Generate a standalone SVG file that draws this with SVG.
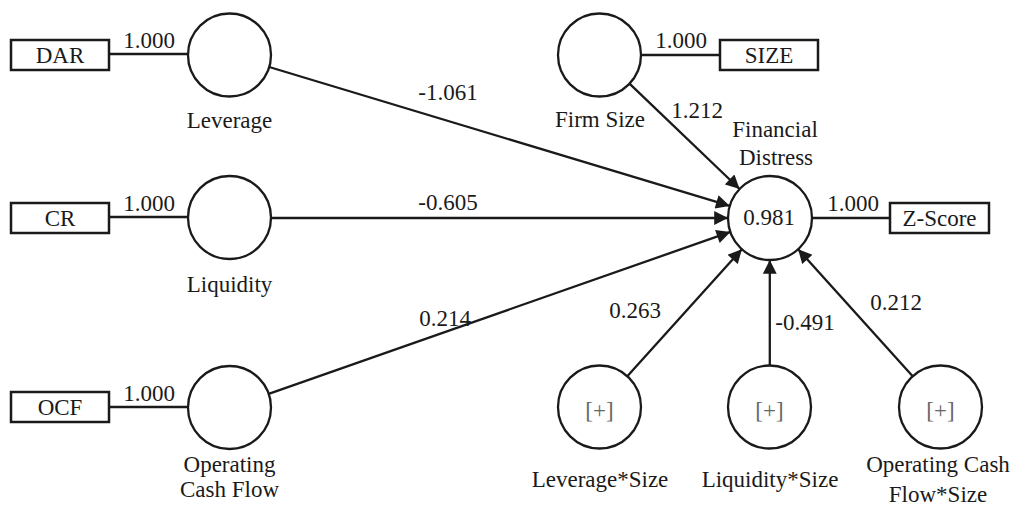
<svg xmlns="http://www.w3.org/2000/svg" width="1017" height="506" viewBox="0 0 1017 506" font-family="'Liberation Serif', 'DejaVu Serif', serif">
<defs>
<marker id="arr" viewBox="0 0 10 10" refX="10" refY="5" markerWidth="6.5" markerHeight="6" orient="auto" markerUnits="strokeWidth">
<path d="M0,0 L10,5 L0,10 Z" fill="#1a1a1a"/>
</marker>
<style>
text{font-family:'Liberation Serif','DejaVu Serif',serif;font-size:23px;fill:#1a1a1a}
.c{text-anchor:middle}
.box{fill:#fff;stroke:#1a1a1a;stroke-width:2.5}
.lv{fill:#fff;stroke:#1a1a1a;stroke-width:2.3}
.e{stroke:#1a1a1a;stroke-width:2.3;fill:none}
.a{marker-end:url(#arr)}
.g{fill:#666}
</style>
</defs>
<rect width="1017" height="506" fill="#fff"/>
<g id="connectors">
<line class="e" x1="109" y1="54" x2="188" y2="54"/>
<line class="e" x1="109" y1="217" x2="188" y2="217"/>
<line class="e" x1="109" y1="407" x2="188" y2="407"/>
<line class="e" x1="641" y1="55" x2="720" y2="55"/>
<line class="e" x1="812" y1="218" x2="890" y2="218"/>
<line class="e a" x1="269.2" y1="67" x2="729.8" y2="205.9"/>
<line class="e a" x1="271" y1="218" x2="728" y2="218"/>
<line class="e a" x1="268.7" y1="393.8" x2="730.4" y2="231.9"/>
<line class="e a" x1="629.5" y1="83.7" x2="739.6" y2="189"/>
<line class="e a" x1="627.3" y1="376.2" x2="741.9" y2="249.2"/>
<line class="e a" x1="769.8" y1="365.5" x2="769.8" y2="260"/>
<line class="e a" x1="912.7" y1="376.2" x2="798.1" y2="249.2"/>
<text x="149" y="48" class="c">1.000</text>
<text x="149" y="211" class="c">1.000</text>
<text x="149" y="401" class="c">1.000</text>
<text x="681" y="48" class="c">1.000</text>
<text x="853" y="211" class="c">1.000</text>
<text x="448" y="100" class="c">-1.061</text>
<text x="448" y="210" class="c">-0.605</text>
<text x="445" y="326" class="c">0.214</text>
<text x="697" y="118" class="c">1.212</text>
<text x="635" y="318" class="c">0.263</text>
<text x="805" y="330" class="c">-0.491</text>
<text x="896" y="310" class="c">0.212</text>
</g>
<g id="DAR"><rect class="box" x="11" y="40" width="98" height="30"/><text x="60" y="63" class="c">DAR</text></g>
<g id="CR"><rect class="box" x="11" y="203" width="98" height="30"/><text x="60" y="226" class="c">CR</text></g>
<g id="OCF"><rect class="box" x="11" y="392" width="98" height="30"/><text x="60" y="415" class="c">OCF</text></g>
<g id="SIZE"><rect class="box" x="720" y="40" width="98" height="30"/><text x="769" y="63" class="c">SIZE</text></g>
<g id="ZScore"><rect class="box" x="890" y="203" width="99" height="30"/><text x="939.5" y="226" class="c">Z-Score</text></g>
<g id="Leverage"><circle class="lv" cx="229.5" cy="55" r="41.5"/><text x="229.5" y="128" class="c">Leverage</text></g>
<g id="Liquidity"><circle class="lv" cx="229.5" cy="217.5" r="41.5"/><text x="229.5" y="292" class="c">Liquidity</text></g>
<g id="OperatingCashFlow"><circle class="lv" cx="229.5" cy="407.5" r="41.5"/><text x="229.5" y="472" class="c">Operating</text><text x="229.5" y="497" class="c">Cash Flow</text></g>
<g id="FirmSize"><circle class="lv" cx="599.5" cy="55" r="41.5"/><text x="600" y="127" class="c">Firm Size</text></g>
<g id="FinancialDistress"><circle class="lv" cx="770" cy="218" r="42"/><text x="769" y="225" class="c">0.981</text><text x="775" y="137" class="c">Financial</text><text x="776" y="165" class="c">Distress</text></g>
<g id="LeverageSize"><circle class="lv" cx="599.5" cy="407" r="41.5"/><text x="599.5" y="418" class="c g">[+]</text><text x="600" y="487" class="c">Leverage*Size</text></g>
<g id="LiquiditySize"><circle class="lv" cx="769.5" cy="407" r="41.5"/><text x="769.5" y="418" class="c g">[+]</text><text x="770" y="487" class="c">Liquidity*Size</text></g>
<g id="OCFSize"><circle class="lv" cx="940.5" cy="407" r="41.5"/><text x="940.5" y="418" class="c g">[+]</text><text x="938" y="472" class="c">Operating Cash</text><text x="938" y="502" class="c">Flow*Size</text></g>
</svg>
